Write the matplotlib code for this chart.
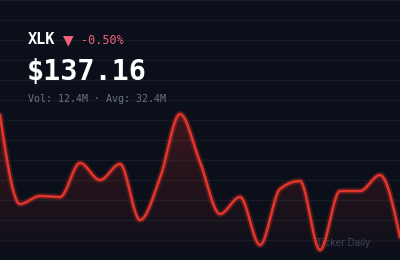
import numpy as np
import matplotlib as mpl
import matplotlib.pyplot as plt

# ticker card data
ticker = "XLK"
last_price = "$137.16"
change_pct = "-0.50%"
vol_text = "Vol: 12.4M · Avg: 32.4M"
brand = "Ticker Daily"
prices = [139.60, 137.82, 137.98, 137.96, 138.64, 138.30, 138.62, 137.50,
          138.34, 139.62, 138.66, 137.62, 137.96, 137.00, 138.12, 138.28,
          136.90, 138.08, 138.08, 138.40, 137.16]
price_lo, price_hi = 136.70, 141.90

BG = '#0b0f1a'
GRID = '#161b27'
RED = '#e5352a'
PINK = '#f0607a'
W, H = 400, 260


def monotone_x(x, y, n=30):
    # d3 curveMonotoneX style hermite interpolation
    x = np.asarray(x, float)
    y = np.asarray(y, float)
    h = np.diff(x)
    s = np.diff(y) / h
    t = np.zeros_like(y)
    for i in range(1, len(y) - 1):
        p = (s[i - 1] * h[i] + s[i] * h[i - 1]) / (h[i - 1] + h[i])
        t[i] = (np.sign(s[i - 1]) + np.sign(s[i])) * min(abs(s[i - 1]), abs(s[i]), 0.5 * abs(p))
    t[0] = (3 * s[0] - t[1]) / 2
    t[-1] = (3 * s[-1] - t[-2]) / 2
    xs, ys = [], []
    for i in range(len(h)):
        u = np.linspace(0, 1, n, endpoint=False)
        h00 = 2 * u**3 - 3 * u**2 + 1
        h10 = u**3 - 2 * u**2 + u
        h01 = -2 * u**3 + 3 * u**2
        h11 = u**3 - u**2
        xs.append(x[i] + u * h[i])
        ys.append(h00 * y[i] + h10 * h[i] * t[i] + h01 * y[i + 1] + h11 * h[i] * t[i + 1])
    xs.append([x[-1]])
    ys.append([y[-1]])
    return np.concatenate(xs), np.concatenate(ys)


fig = plt.figure(figsize=(W / 100, H / 100), dpi=100, facecolor=BG)
ax = fig.add_axes([0, 0, 1, 1])
ax.set_facecolor(BG)
ax.axis('off')

# horizontal grid every 20 px
for gy in np.arange(0, H + 1, 20):
    fig.add_artist(plt.Line2D([0, 1], [1 - gy / H, 1 - gy / H], color=GRID,
                              lw=1, transform=fig.transFigure, zorder=0))

xi = np.arange(len(prices))
cx, cy = monotone_x(xi, prices)

# gradient fill under curve
grad = np.zeros((256, 1, 4))
grad[..., :3] = mpl.colors.to_rgb(RED)
grad[:, 0, 3] = np.linspace(0.22, 0.0, 256)
top = max(prices)
img = ax.imshow(grad, aspect='auto', extent=[0, len(prices) - 1, price_lo, top],
                origin='upper', zorder=1)
poly = ax.fill_between(cx, cy, price_lo, color='none')
img.set_clip_path(poly.get_paths()[0], transform=ax.transData)

# glow + line, watermark between them
ax.plot(cx, cy, color=RED, lw=4.5, alpha=0.25, zorder=2, solid_capstyle='round')
ax.text(316 / W, 1 - 243 / H, brand, color='#3b404c', fontsize=7.6,
        family='Roboto', va='center', ha='left', transform=ax.transAxes, zorder=2.5)
ax.plot(cx, cy, color=RED, lw=1.8, zorder=3, solid_capstyle='round')
ax.set_xlim(0, len(prices) - 1)
ax.set_ylim(price_lo, price_hi)

mono = 'DejaVu Sans Mono'


def px(x, y):
    return x / W, 1 - y / H


fig.text(*px(28, 39), ticker, color='white', fontsize=11, fontweight='bold',
         family=mono, va='center', ha='left')
fig.text(*px(63, 40), '▼', color=PINK, fontsize=10, family='DejaVu Sans',
         va='center', ha='left')
fig.text(*px(81, 40), change_pct, color=PINK, fontsize=8.5, family=mono,
         va='center', ha='left')
fig.text(*px(27, 72), last_price, color='white', fontsize=20.5, fontweight='bold',
         family=mono, va='center', ha='left')
fig.text(*px(28, 99), vol_text, color='#6b7280', fontsize=7.2, family=mono,
         va='center', ha='left')

fig.savefig('out.png', dpi=100, facecolor=BG)
